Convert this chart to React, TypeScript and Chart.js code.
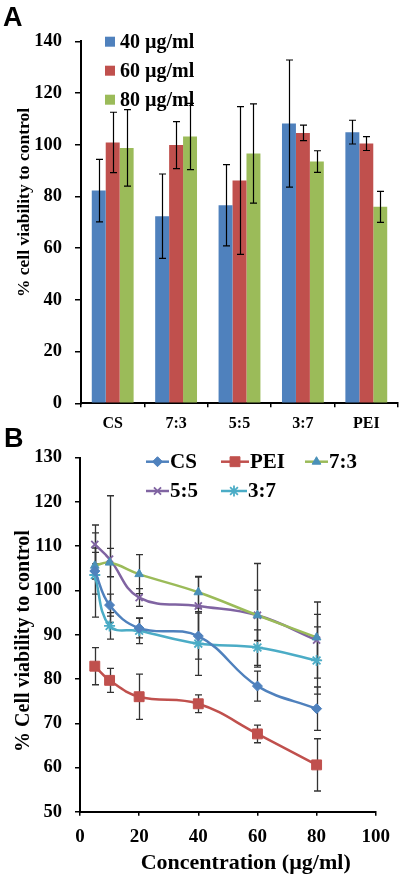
import React, { useEffect, useRef } from 'react';
import { Chart, registerables } from 'chart.js';
import { drawPoint } from 'chart.js/helpers';

Chart.register(...registerables);

// ---------- Panel A data ----------
const barCategories = ['CS', '7:3', '5:5', '3:7', 'PEI'];
const barSeriesLabels = ['40 µg/ml', '60 µg/ml', '80 µg/ml'];
const bar40 = [82.3, 72.4, 76.6, 108.2, 104.9];
const bar40Err = [12.1, 16.3, 15.7, 24.6, 4.6];
const bar60 = [100.9, 99.9, 86.2, 104.6, 100.5];
const bar60Err = [11.7, 9.1, 28.6, 3.0, 2.7];
const bar80 = [98.8, 103.2, 96.6, 93.5, 76.0];
const bar80Err = [14.8, 12.8, 19.2, 4.2, 6.0];
const barYTitle = '% cell viability to control';

// ---------- Panel B data ----------
const concentrations = [5, 10, 20, 40, 60, 80];
const lineLabels = ['CS', 'PEI', '7:3', '5:5', '3:7'];
const csVals = [104.4, 96.7, 91.5, 89.7, 78.4, 73.3];
const csErr = [5.2, 2.5, 2.2, 5.2, 3.4, 4.9];
const peiVals = [82.9, 79.7, 76.0, 74.4, 67.6, 60.6];
const peiErr = [4.2, 2.7, 5.1, 2.0, 2.0, 5.9];
const r73Vals = [105.6, 106.3, 103.7, 99.6, 94.4, 89.4];
const r73Err = [3.0, 3.2, 4.4, 3.6, 5.7, 5.2];
const r55Vals = [110.4, 107.1, 98.4, 96.5, 94.4, 88.8];
const r55Err = [4.4, 14.3, 2.0, 6.5, 11.7, 8.6];
const r37Vals = [103.5, 92.0, 90.9, 88.0, 87.1, 84.2];
const r37Err = [9.5, 3.0, 2.9, 7.2, 4.0, 7.6];
const lineYTitle = '% Cell viability to control';
const lineXTitle = 'Concentration (µg/ml)';

const SERIF = '"Liberation Serif", "Times New Roman", serif';
const SANS = '"Liberation Sans", Arial, sans-serif';

function drawErrorBars(chart: any, opts: any) {
  const ctx = chart.ctx;
  const yScale = chart.scales.y;
  ctx.save();
  ctx.strokeStyle = opts.color;
  ctx.lineWidth = opts.width;
  const cap = opts.cap;
  chart.data.datasets.forEach((ds: any, di: number) => {
    const errs = ds.errors;
    if (!errs) return;
    const meta = chart.getDatasetMeta(di);
    meta.data.forEach((el: any, i: number) => {
      const raw = ds.data[i];
      const v = typeof raw === 'number' ? raw : raw.y;
      const e = errs[i];
      const x = Math.round(el.x) + 0.5;
      const yt = yScale.getPixelForValue(v + e);
      const yb = yScale.getPixelForValue(v - e);
      ctx.beginPath();
      ctx.moveTo(x, yt);
      ctx.lineTo(x, yb);
      ctx.moveTo(x - cap, yt);
      ctx.lineTo(x + cap, yt);
      ctx.moveTo(x - cap, yb);
      ctx.lineTo(x + cap, yb);
      ctx.stroke();
    });
  });
  ctx.restore();
}

const errorBarsPlugin = {
  id: 'errorBars',
  beforeDatasetsDraw(chart: any, _a: any, opts: any) {
    if (opts && opts.layer === 'before') drawErrorBars(chart, opts);
  },
  afterDatasetsDraw(chart: any, _a: any, opts: any) {
    if (opts && opts.layer !== 'before') drawErrorBars(chart, opts);
  },
};

const panelAText = {
  id: 'panelAText',
  afterDraw(chart: any) {
    const ctx = chart.ctx;
    const top = chart.chartArea.top;
    ctx.save();
    ctx.fillStyle = '#000';
    ctx.font = `bold 27px ${SANS}`;
    ctx.textAlign = 'left';
    ctx.textBaseline = 'alphabetic';
    ctx.fillText('A', 3, 26);
    ctx.font = `bold 20px ${SERIF}`;
    ctx.textBaseline = 'middle';
    chart.data.datasets.forEach((ds: any, i: number) => {
      const y = top + 0.3 + i * 29;
      ctx.fillStyle = ds.backgroundColor;
      ctx.fillRect(105, y - 5, 10, 10);
      ctx.fillStyle = '#000';
      ctx.fillText(ds.label, 120, y + 1);
    });
    ctx.translate(24, 202.5);
    ctx.rotate(-Math.PI / 2);
    ctx.textAlign = 'center';
    ctx.font = `bold 17.5px ${SERIF}`;
    ctx.fillText(barYTitle, 0, 0);
    ctx.restore();
  },
};

const legendBPos = [
  { x: 146, tx: 170, row: 0 },
  { x: 221, tx: 250, row: 0 },
  { x: 305, tx: 329, row: 0 },
  { x: 146, tx: 170, row: 1 },
  { x: 221, tx: 248, row: 1 },
];

const panelBText = {
  id: 'panelBText',
  afterDraw(chart: any) {
    const ctx = chart.ctx;
    const ca = chart.chartArea;
    ctx.save();
    ctx.fillStyle = '#000';
    ctx.font = `bold 27px ${SANS}`;
    ctx.textAlign = 'left';
    ctx.textBaseline = 'alphabetic';
    ctx.fillText('B', 4, 27);
    ctx.font = `bold 21px ${SERIF}`;
    ctx.textBaseline = 'middle';
    chart.data.datasets.forEach((ds: any, i: number) => {
      const p = legendBPos[i];
      const y = ca.top + 4 + p.row * 29.3;
      const x1 = p.x, x2 = p.tx - 1;
      ctx.strokeStyle = ds.borderColor;
      ctx.lineWidth = 2.5;
      ctx.beginPath();
      ctx.moveTo(x1, y);
      ctx.lineTo(x2, y);
      ctx.stroke();
      ctx.fillStyle = ds.pointBackgroundColor;
      ctx.strokeStyle = ds.pointBorderColor;
      ctx.lineWidth = ds.pointBorderWidth;
      drawPoint(ctx, { pointStyle: ds.pointStyle, radius: ds.pointRadius, rotation: 0, borderWidth: ds.pointBorderWidth } as any, (x1 + x2) / 2, y);
      ctx.fillStyle = '#000';
      ctx.fillText(ds.label, p.tx, y + 1);
    });
    ctx.save();
    ctx.translate(23.5, 221);
    ctx.rotate(-Math.PI / 2);
    ctx.textAlign = 'center';
    ctx.font = `bold 20px ${SERIF}`;
    ctx.fillText(lineYTitle, 0, 0);
    ctx.restore();
    ctx.textAlign = 'center';
    ctx.font = `bold 22px ${SERIF}`;
    ctx.fillText(lineXTitle, 245.7, 443);
    ctx.restore();
  },
};

const tickFont = (size: number) => ({ family: SERIF, size, weight: 'bold' as const });

export default function App() {
  const refA = useRef<HTMLCanvasElement>(null);
  const refB = useRef<HTMLCanvasElement>(null);

  useEffect(() => {
    const barColors = ['#4F81BD', '#C0504D', '#9BBB59'];
    const barVals = [bar40, bar60, bar80];
    const barErrs = [bar40Err, bar60Err, bar80Err];

    const chartA = new Chart(refA.current as HTMLCanvasElement, {
      type: 'bar',
      data: {
        labels: barCategories,
        datasets: barSeriesLabels.map((label, i) => ({
          label,
          data: barVals[i],
          errors: barErrs[i],
          backgroundColor: barColors[i],
          borderWidth: 0,
          categoryPercentage: 0.66,
          barPercentage: 1.0,
        })) as any,
      },
      options: {
        animation: false,
        responsive: false,
        events: [],
        layout: { padding: { top: 41.4, right: 2, left: 0, bottom: 0 } },
        plugins: {
          legend: { display: false },
          tooltip: { enabled: false },
          errorBars: { color: '#000', width: 1.2, cap: 3.5, layer: 'after' },
        } as any,
        scales: {
          x: {
            grid: { drawOnChartArea: false, drawTicks: true, tickLength: 4, color: '#000', lineWidth: 1.5, offset: true },
            border: { display: true, color: '#000', width: 2 },
            ticks: { color: '#000', font: tickFont(16), padding: 7 },
            afterFit: (s: any) => { s.height = 32.7; },
          },
          y: {
            min: 0,
            max: 140,
            grid: { drawOnChartArea: false, drawTicks: true, tickLength: 6, color: '#000', lineWidth: 1.5 },
            border: { display: true, color: '#000', width: 2 },
            ticks: { stepSize: 20, color: '#000', font: tickFont(18.5), padding: 13 },
            afterFit: (s: any) => { s.width = 81; },
          },
        },
      },
      plugins: [errorBarsPlugin, panelAText],
    } as any);

    const mk = (label: string, vals: number[], errs: number[], color: string, style: string, radius: number, fill: string, bw: number) => ({
      label,
      data: concentrations.map((x, i) => ({ x, y: vals[i] })),
      errors: errs,
      borderColor: color,
      backgroundColor: color,
      borderWidth: 2.5,
      tension: 0.4,
      pointStyle: style,
      pointRadius: radius,
      pointBackgroundColor: fill,
      pointBorderColor: style === 'crossRot' || style === 'star' ? color : fill,
      pointBorderWidth: bw,
      fill: false,
    });

    const chartB = new Chart(refB.current as HTMLCanvasElement, {
      type: 'line',
      data: {
        datasets: [
          mk(lineLabels[0], csVals, csErr, '#4F81BD', 'rectRot', 5, '#4F81BD', 1),
          mk(lineLabels[1], peiVals, peiErr, '#C0504D', 'rect', 7, '#C0504D', 1),
          mk(lineLabels[2], r73Vals, r73Err, '#9BBB59', 'triangle', 5, '#4A90B8', 1),
          mk(lineLabels[3], r55Vals, r55Err, '#8064A2', 'crossRot', 5, '#8064A2', 1.8),
          mk(lineLabels[4], r37Vals, r37Err, '#4BACC6', 'star', 5.5, '#4BACC6', 1.8),
        ] as any,
      },
      options: {
        animation: false,
        responsive: false,
        events: [],
        layout: { padding: { top: 37.7, right: 19, left: 0, bottom: 0 } },
        plugins: {
          legend: { display: false },
          tooltip: { enabled: false },
          errorBars: { color: '#333', width: 1.3, cap: 3.5, layer: 'before' },
        } as any,
        scales: {
          x: {
            type: 'linear',
            min: 0,
            max: 100,
            grid: { drawOnChartArea: false, drawTicks: true, tickLength: 4, color: '#000', lineWidth: 1.5 },
            border: { display: true, color: '#000', width: 2 },
            ticks: { stepSize: 20, color: '#000', font: tickFont(19), padding: 10 },
            afterFit: (s: any) => { s.height = 64.2; },
          },
          y: {
            min: 50,
            max: 130,
            grid: { drawOnChartArea: false, drawTicks: true, tickLength: 5, color: '#000', lineWidth: 1.5 },
            border: { display: true, color: '#000', width: 2 },
            ticks: { stepSize: 10, color: '#000', font: tickFont(18.5), padding: 13 },
            afterFit: (s: any) => { s.width = 80; },
          },
        },
      },
      plugins: [errorBarsPlugin, panelBText],
    } as any);

    return () => {
      chartA.destroy();
      chartB.destroy();
    };
  }, []);

  return (
    <div style={{ position: 'absolute', left: 0, top: 0, width: 400, height: 876, background: '#fff' }}>
      <canvas ref={refA} width={400} height={436} style={{ position: 'absolute', left: 0, top: 0, width: 400, height: 436 }} />
      <canvas ref={refB} width={400} height={456} style={{ position: 'absolute', left: 0, top: 420, width: 400, height: 456 }} />
    </div>
  );
}
